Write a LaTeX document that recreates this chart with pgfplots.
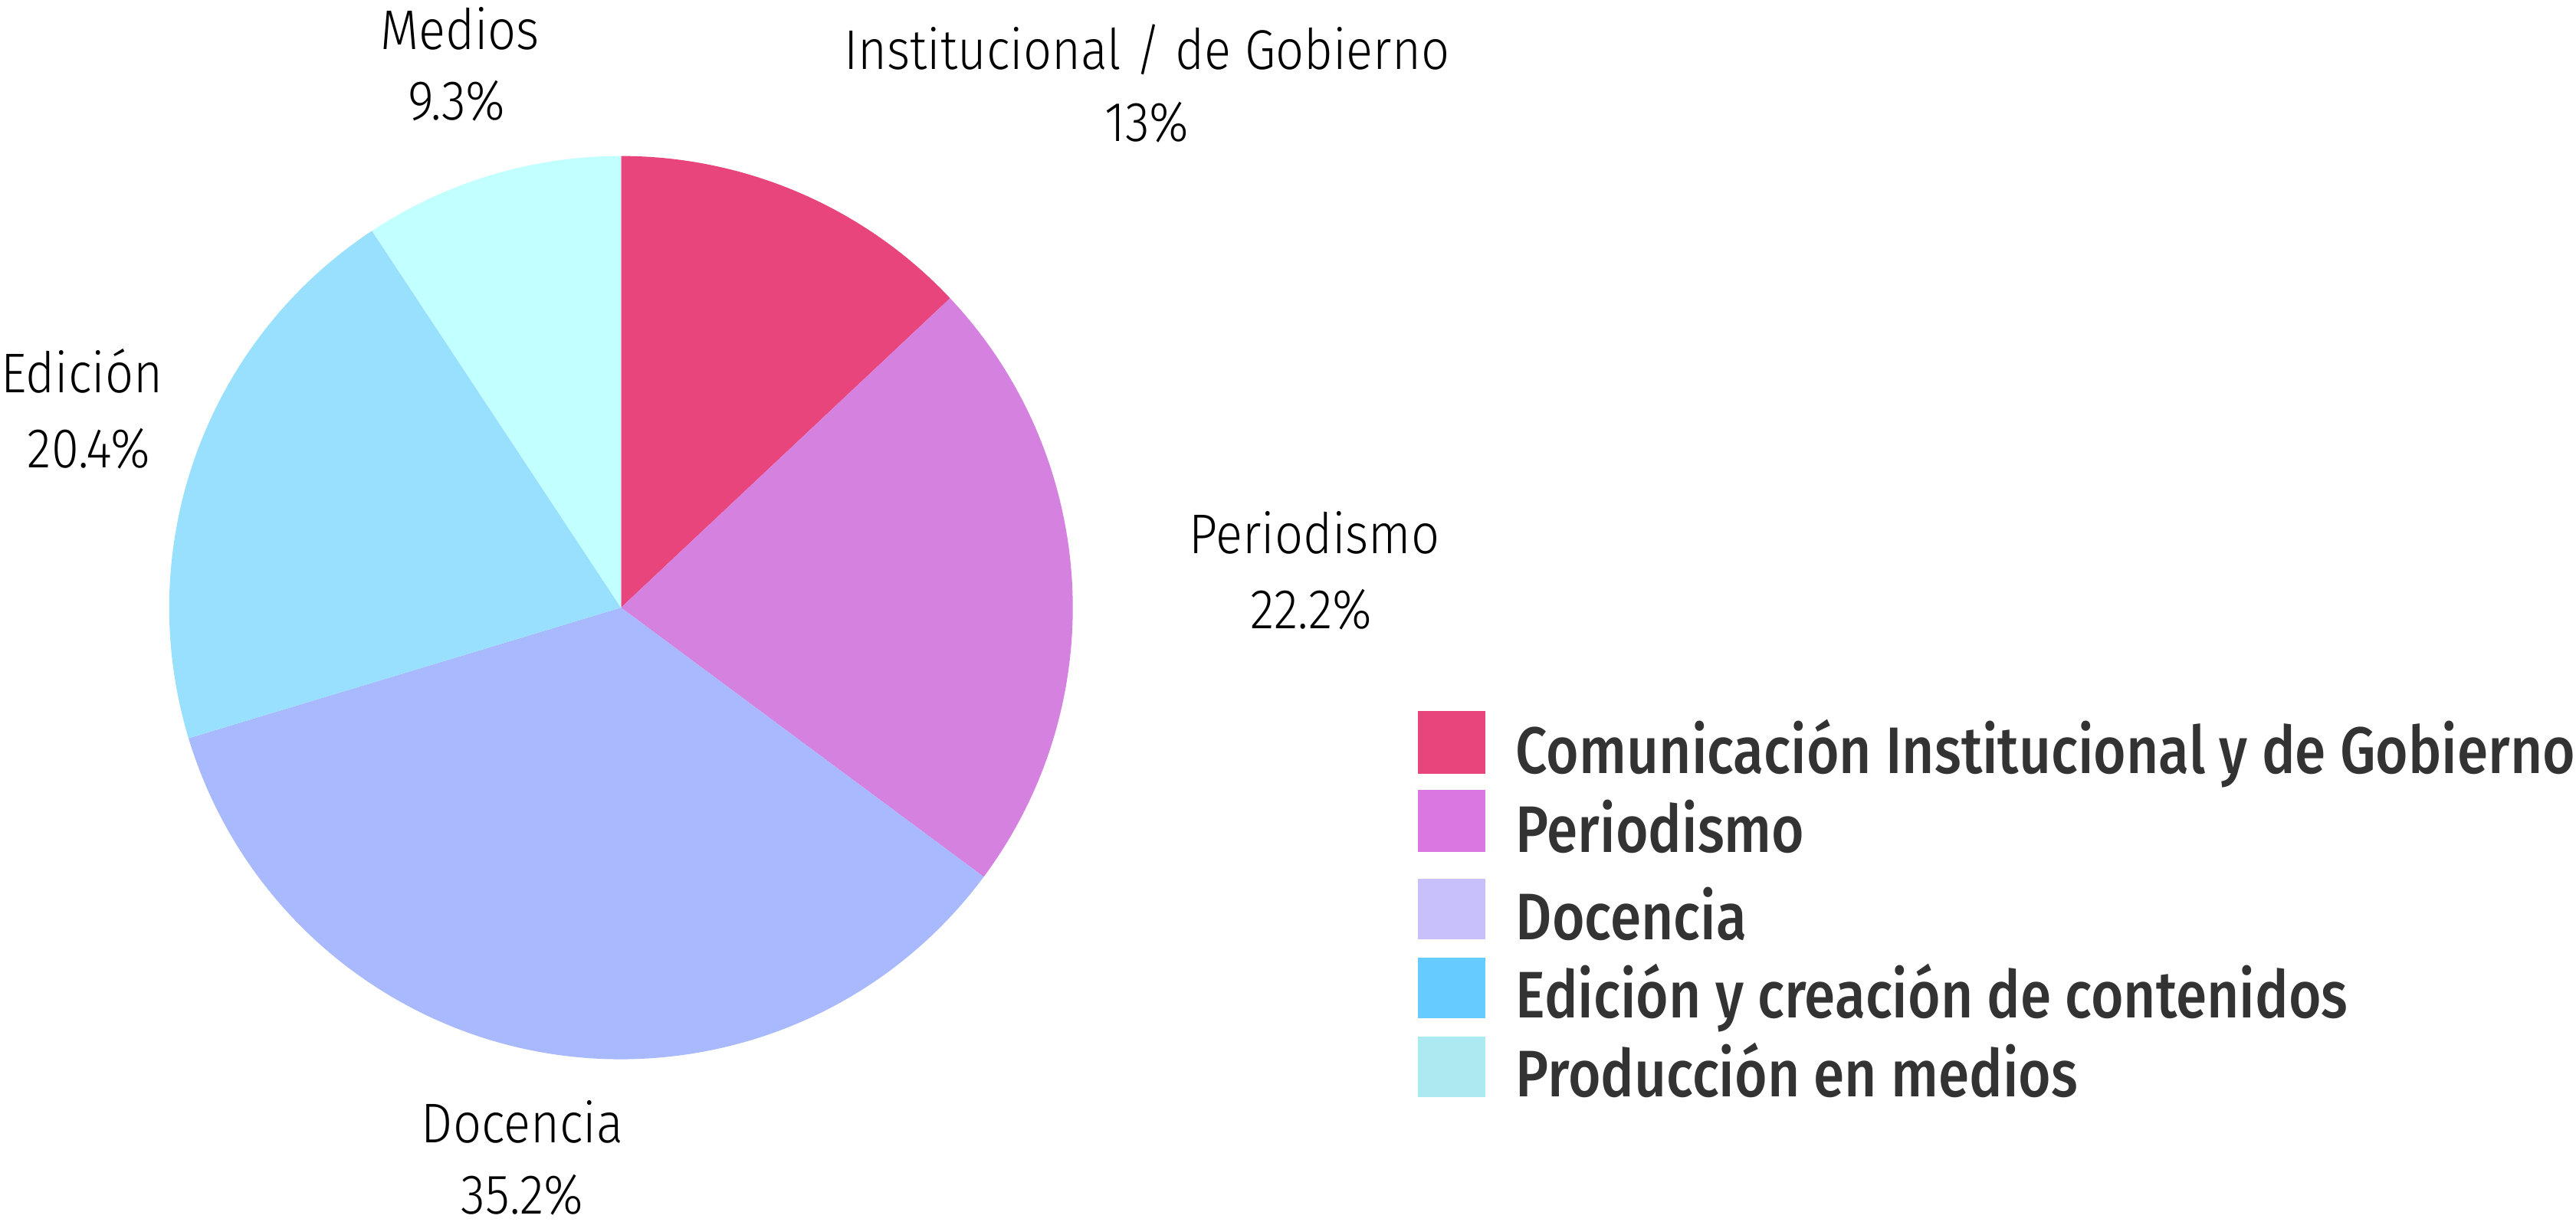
\documentclass[border=0pt]{standalone}
\usepackage{pgfplots}
\pgfplotsset{compat=1.18}
\usepackage{pgfplotstable}
\usepackage{fontspec}
\setmainfont{Fira Sans Light}[FakeStretch=0.89]
\newfontfamily\legfont{Fira Sans Medium}[FakeStretch=0.85]

% slice colours (pie) and legend swatch colours
\definecolor{cInst}{HTML}{E8457D}
\definecolor{cPer}{HTML}{D581DF}
\definecolor{cDoc}{HTML}{A9B9FD}
\definecolor{cEdi}{HTML}{99E0FF}
\definecolor{cMed}{HTML}{C2FFFF}
\definecolor{lInst}{HTML}{E8457D}
\definecolor{lPer}{HTML}{DA77E0}
\definecolor{lDoc}{HTML}{C8C0FA}
\definecolor{lEdi}{HTML}{66CCFF}
\definecolor{lMed}{HTML}{AAEAF0}
\definecolor{legtext}{HTML}{333333}

\pgfplotstableread{
name value
Inst 13
Per  22.2
Doc  35.2
Edi  20.4
Med  9.3
}\sharetable

% cumulative angles, clockwise from 12 o'clock
\pgfplotstablegetelem{0}{value}\of\sharetable\let\vA\pgfplotsretval
\pgfplotstablegetelem{1}{value}\of\sharetable\let\vB\pgfplotsretval
\pgfplotstablegetelem{2}{value}\of\sharetable\let\vC\pgfplotsretval
\pgfplotstablegetelem{3}{value}\of\sharetable\let\vD\pgfplotsretval
\pgfplotstablegetelem{4}{value}\of\sharetable\let\vE\pgfplotsretval
\pgfmathsetmacro\tot{\vA+\vB+\vC+\vD+\vE}
\pgfmathsetmacro\aA{90-360*\vA/\tot}
\pgfmathsetmacro\aB{\aA-360*\vB/\tot}
\pgfmathsetmacro\aC{\aB-360*\vC/\tot}
\pgfmathsetmacro\aD{\aC-360*\vD/\tot}
\def\aE{-270}
\def\R{2.75cm}

\begin{document}
\begin{tikzpicture}
\begin{axis}[
  width=15.68cm, height=7.44cm, scale only axis,
  xmin=0, xmax=1568, ymin=0, ymax=744,
  hide axis, clip=false,
]
\coordinate (bl) at (axis cs:0,0);
\coordinate (tr) at (axis cs:1568,744);
\fill[cInst] (axis cs:378,374) -- ++(90:\R)  arc[start angle=90,  end angle=\aA, radius=\R] -- cycle;
\fill[cPer]  (axis cs:378,374) -- ++(\aA:\R) arc[start angle=\aA, end angle=\aB, radius=\R] -- cycle;
\fill[cDoc]  (axis cs:378,374) -- ++(\aB:\R) arc[start angle=\aB, end angle=\aC, radius=\R] -- cycle;
\fill[cEdi]  (axis cs:378,374) -- ++(\aC:\R) arc[start angle=\aC, end angle=\aD, radius=\R] -- cycle;
\fill[cMed]  (axis cs:378,374) -- ++(\aD:\R) arc[start angle=\aD, end angle=\aE, radius=\R] -- cycle;

% slice labels
\tikzset{lab/.style={anchor=base, inner sep=0pt, font=\fontsize{9.7pt}{11pt}\selectfont}}
\node[lab] at (axis cs:280,714) {Medios};
\node[lab] at (axis cs:278,671) {9.3\%};
\node[lab] at (axis cs:698,702) {Institucional / de Gobierno};
\node[lab] at (axis cs:698,658) {13\%};
\node[lab] at (axis cs:800,407) {Periodismo};
\node[lab] at (axis cs:798,361) {22.2\%};
\node[lab] at (axis cs:50,505)  {Edición};
\node[lab] at (axis cs:54,459)  {20.4\%};
\node[lab] at (axis cs:318,48)  {Docencia};
\node[lab] at (axis cs:318,5)   {35.2\%};

% legend
\tikzset{leg/.style={anchor=base west, inner sep=0pt, text=legtext, font=\legfont\fontsize{11.4pt}{13pt}\selectfont}}
\fill[lInst] (axis cs:863,273) rectangle (axis cs:904,311);
\fill[lPer]  (axis cs:863,225) rectangle (axis cs:904,263);
\fill[lDoc]  (axis cs:863,172) rectangle (axis cs:904,209);
\fill[lEdi]  (axis cs:863,124) rectangle (axis cs:904,161);
\fill[lMed]  (axis cs:863,76)  rectangle (axis cs:904,113);
\node[leg] at (axis cs:922,273) {Comunicación Institucional y de Gobierno};
\node[leg] at (axis cs:922,225) {Periodismo};
\node[leg] at (axis cs:922,172) {Docencia};
\node[leg] at (axis cs:922,124) {Edición y creación de contenidos};
\node[leg] at (axis cs:922,76)  {Producción en medios};
\end{axis}
\pgfresetboundingbox
\path[use as bounding box] (bl) rectangle (tr);
\end{tikzpicture}
\end{document}
